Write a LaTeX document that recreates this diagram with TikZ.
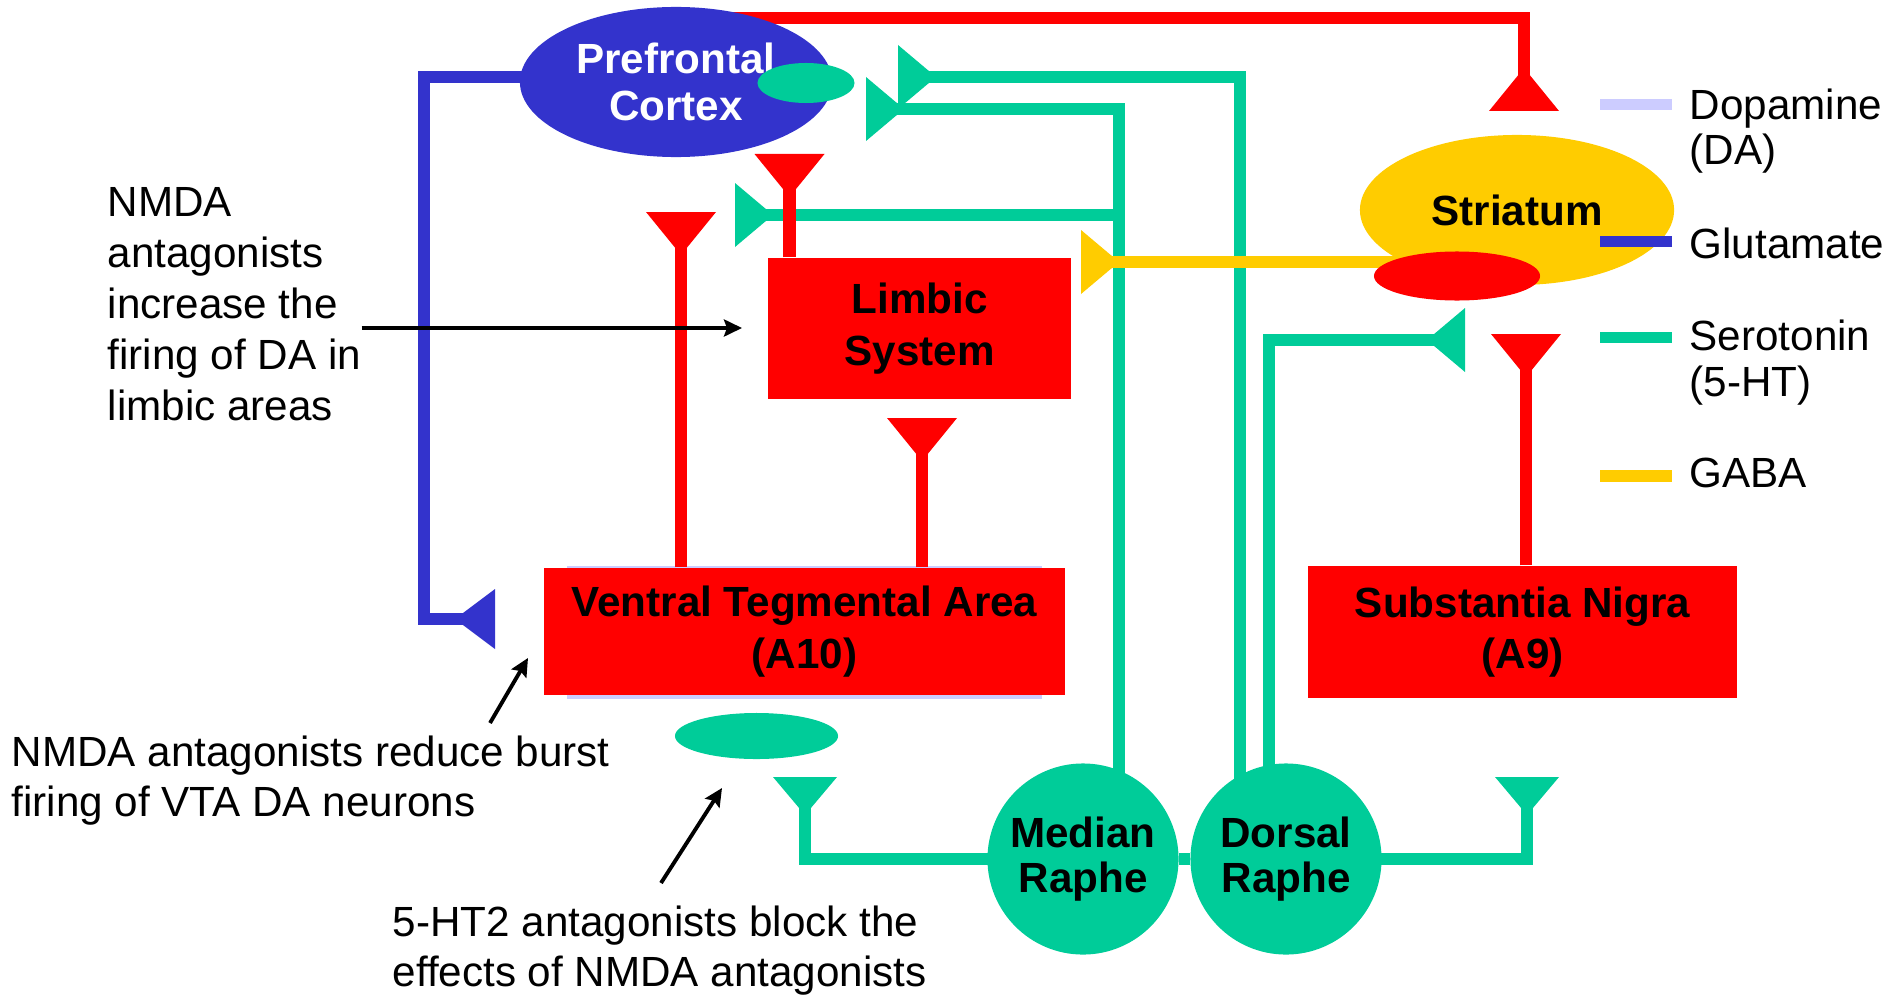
\documentclass[tikz,border=0pt]{standalone}
\usepackage{fontspec}
\setmainfont{Liberation Sans}
\usetikzlibrary{shapes.geometric, arrows.meta, backgrounds}
\definecolor{dared}{RGB}{255,0,0}
\definecolor{glublue}{RGB}{51,51,204}
\definecolor{serteal}{RGB}{0,204,153}
\definecolor{gabayel}{RGB}{255,204,0}
\definecolor{dalav}{RGB}{204,204,255}

\begin{document}
\begin{tikzpicture}[
  x=0.01cm, y=-0.01cm,
  every node/.style={font=\fontsize{12}{14.4}\selectfont, inner sep=0pt},
  area/.style={fill=dared, font=\fontsize{12}{14.6}\selectfont\bfseries, align=center},
  blob/.style={ellipse, font=\fontsize{12}{13.3}\selectfont\bfseries, align=center},
  nucleus/.style={circle, fill=serteal, minimum size=1.91cm, font=\fontsize{12}{12.8}\selectfont\bfseries, align=center},
  note/.style={align=left, anchor=north west},
  pointer/.style={-{Stealth[length=1.8mm, width=1.7mm, inset=0.3mm]}, line width=1.1pt},
  da/.style={draw=dared, line width=3.5pt},
  glu/.style={draw=glublue, line width=3.5pt},
  ser/.style={draw=serteal, line width=3.5pt},
  gaba/.style={draw=gabayel, line width=3.5pt},
  swatch/.style={minimum width=0.72cm, minimum height=0.115cm}
]
  \useasboundingbox (0,0) rectangle (1889,994);

  % Brain areas
  \node[blob, fill=glublue, text=white, minimum width=3.12cm, minimum height=1.5cm] (pfc) at (676,82) {Prefrontal\\Cortex};
  \node[ellipse, fill=serteal, minimum width=0.97cm, minimum height=0.4cm] (pfcrec) at (806,83) {};
  \node[blob, fill=gabayel, minimum width=3.14cm, minimum height=1.5cm] (str) at (1517,210) {Striatum};
  \node[ellipse, fill=dared, minimum width=1.66cm, minimum height=0.49cm] (strrec) at (1457,276) {};
  \node[area, minimum width=3.03cm, minimum height=1.41cm] (limbic) at (919.5,328.5) {Limbic\\System};
  \node[area, minimum width=5.21cm, minimum height=1.27cm] (vta) at (804.5,631.5) {Ventral Tegmental Area\\(A10)};
  \node[area, minimum width=4.29cm, minimum height=1.32cm] (sn) at (1522.5,632) {Substantia Nigra\\(A9)};
  \node[ellipse, fill=serteal, minimum width=1.63cm, minimum height=0.46cm] (vtarec) at (756.5,736) {};
  \node[nucleus] (median) at (1083,859) {Median\\Raphe};
  \node[nucleus] (dorsal) at (1286,859) {Dorsal\\Raphe};

  % Legend
  \node[swatch, fill=dalav] (legda) at (1636,104.5) {};
  \node[swatch, fill=glublue] (legglu) at (1636,241.5) {};
  \node[swatch, fill=serteal] (legser) at (1636,337.5) {};
  \node[swatch, fill=gabayel] (leggaba) at (1636,476) {};
  \node[note, font=\fontsize{12}{13}\selectfont] (legdatxt) at (1689,88) {Dopamine\\(DA)};
  \node[note] (leggluxt) at (1689,227) {Glutamate};
  \node[note, font=\fontsize{12}{13}\selectfont] (legsertxt) at (1689,319) {Serotonin\\(5-HT)};
  \node[note] (leggabatxt) at (1689,457) {GABA};

  % Notes
  \node[note, font=\fontsize{12}{14.5}\selectfont] (noteLimbic) at (107,187) {NMDA\\antagonists\\increase the\\firing of DA in\\limbic areas};
  \node[note] (noteVTA) at (11,735) {NMDA antagonists reduce burst\\firing of VTA DA neurons};
  \node[note] (noteHT) at (392,905) {5-HT2 antagonists block the\\effects of NMDA antagonists};

  \coordinate (p1b) at (742,328);
  \coordinate (p2a) at (490,723);
  \coordinate (p2b) at (528,658);
  \coordinate (p3a) at (661,883);
  \coordinate (p3b) at (722,788);
  \draw[pointer] (noteLimbic.east |- p1b) -- (p1b);
  \draw[pointer] (p2a) -- (p2b);
  \draw[pointer] (p3a) -- (p3b);

  \begin{pgfonlayer}{background}
    % shade behind VTA
    \node[fill=dalav, minimum width=4.75cm, minimum height=1.33cm] (vtashade) at (804.5,632.5) {};

    % terminals
    \coordinate (tStr) at (1524,111);
    \coordinate (tLimbicDA) at (789.5,154);
    \coordinate (tVtaDAa) at (681,212);
    \coordinate (tVtaDAb) at (922,418);
    \coordinate (tSnDA) at (1526,334);
    \coordinate (tPfcHTa) at (898,77);
    \coordinate (tPfcHTb) at (866,109);
    \coordinate (tLimbicHT) at (735,215);
    \coordinate (tStrHT) at (1465,340);
    \coordinate (tVtaHT) at (805,777);
    \coordinate (tSnHT) at (1527,777);
    \coordinate (tLimbicGABA) at (1081,262);
    \coordinate (tVtaGlu) at (495,619);
    \coordinate (gluTurn) at (424,77);
    \coordinate (daTurn) at (1524,18);

    % serotonin
    \draw[ser] (median) -- (dorsal);
    \draw[ser] (median.center) -| (tVtaHT);
    \draw[ser] (dorsal.center) -| (tSnHT);
    \draw[ser] (median.center) ++(36,0) |- (tPfcHTb);
    \draw[ser] (median.center) ++(36,0) |- (tLimbicHT);
    \draw[ser] (dorsal.center) ++(-46,0) |- (tPfcHTa);
    \draw[ser] (dorsal.center) ++(-17,0) |- (tStrHT);

    % GABA
    \draw[gaba] (str.center |- tLimbicGABA) -- (tLimbicGABA);

    % glutamate
    \draw[glu] (pfc.center |- gluTurn) -- (gluTurn) |- (tVtaGlu);

    % dopamine
    \draw[da] (pfc.center) |- (daTurn) -- (tStr);
    \draw[da] (limbic.north -| tLimbicDA) -- (tLimbicDA);
    \draw[da] (vta.north -| tVtaDAa) -- (tVtaDAa);
    \draw[da] (vta.north -| tVtaDAb) -- (tVtaDAb);
    \draw[da] (sn.north -| tSnDA) -- (tSnDA);

    % synapse ends
    \fill[dared] (tStr) ++(-35,0) -- ++(70,0) -- ++(-35,-43) -- cycle;
    \foreach \t in {tLimbicDA, tVtaDAa, tVtaDAb, tSnDA}
      \fill[dared] (\t) ++(-35,0) -- ++(70,0) -- ++(-35,43) -- cycle;
    \foreach \t in {tPfcHTa, tPfcHTb, tLimbicHT}
      \fill[serteal] (\t) ++(0,-32) -- ++(0,64) -- ++(38,-32) -- cycle;
    \fill[serteal] (tStrHT) ++(0,-32) -- ++(0,64) -- ++(-38,-32) -- cycle;
    \foreach \t in {tVtaHT, tSnHT}
      \fill[serteal] (\t) ++(-32,0) -- ++(64,0) -- ++(-32,38) -- cycle;
    \fill[gabayel] (tLimbicGABA) ++(0,-32) -- ++(0,64) -- ++(38,-32) -- cycle;
    \fill[glublue] (tVtaGlu) ++(0,-30) -- ++(0,60) -- ++(-40,-30) -- cycle;
  \end{pgfonlayer}
\end{tikzpicture}
\end{document}
